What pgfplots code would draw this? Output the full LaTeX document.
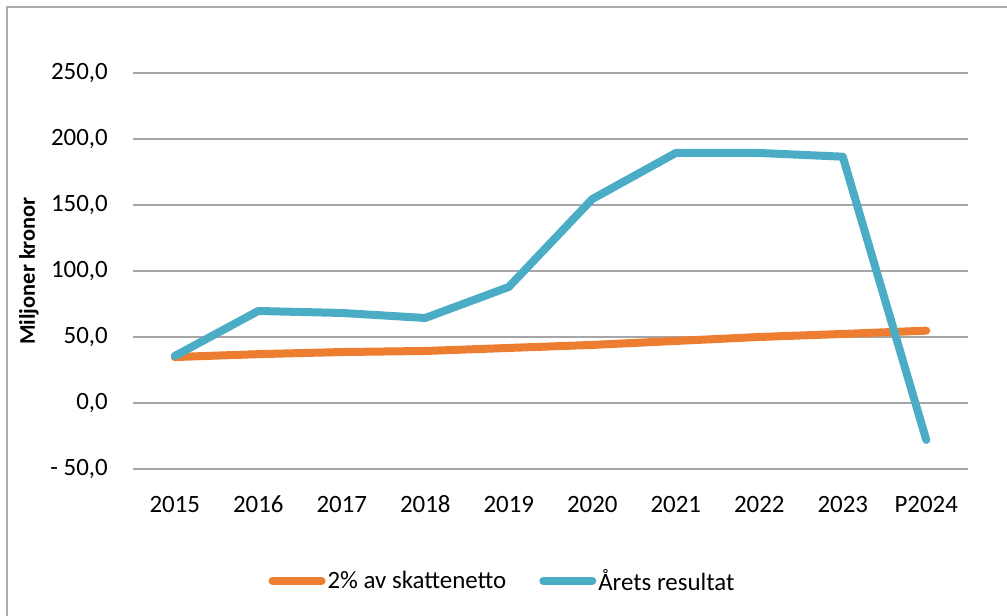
\documentclass[border=0pt]{standalone}
\usepackage{pgfplots}
\pgfplotsset{compat=1.18}
\usepackage{fontspec}
\setmainfont{Carlito}
\definecolor{orng}{HTML}{ED7D31}
\definecolor{aqua}{HTML}{4BACC6}
\definecolor{gridc}{HTML}{A6A6A6}
\definecolor{framec}{HTML}{ABABAB}
\begin{document}
\begin{tikzpicture}[x=1bp,y=1bp]
\useasboundingbox (0,0) rectangle (1007,616);
\draw[framec, line width=1.5bp] (7,-5) -- (7,609) -- (1012,609);
\begin{axis}[
  at={(133bp,147bp)}, anchor=south west,
  scale only axis, width=835bp, height=396bp,
  xmin=-0.5, xmax=9.5, ymin=-50, ymax=250,
  xtick={0,1,2,3,4,5,6,7,8,9},
  xticklabels={2015,2016,2017,2018,2019,2020,2021,2022,2023,P2024},
  ytick={-50,0,50,100,150,200,250},
  yticklabels={{- 50,0},{0,0},{50,0},{100,0},{150,0},{200,0},{250,0}},
  ymajorgrids, grid style={gridc, line width=1.5bp},
  axis line style={draw=none}, major tick length=0pt,
  tick label style={font=\fontsize{25}{30}\selectfont},
  yticklabel style={inner sep=0pt, xshift=-25bp},
  xticklabel style={inner sep=0pt, anchor=base, yshift=-44bp},
  ylabel={Miljoner kronor},
  ylabel style={at={(axis description cs:-0.1246,0.5)}, anchor=center, font=\fontsize{22.5}{26}\selectfont\bfseries},
  legend columns=2,
  legend style={draw=none, fill=none, at={(axis description cs:0.4425,-0.283)}, anchor=center,
    font=\fontsize{25}{30}\selectfont, inner sep=0pt,
    /tikz/every even column/.append style={column sep=31bp},
    nodes={inner sep=2bp}},
  legend image code/.code={\draw[#1] (0bp,0bp) -- (49bp,0bp);},
  clip=false,
]
\addplot[orng, line width=8bp, line cap=round, line join=round] coordinates {
(0,34.8) (1,37.0) (2,38.6) (3,39.4) (4,41.7) (5,44.0) (6,47.0) (7,50.0) (8,52.3) (9,54.8)};
\addlegendentry{2\% av skattenetto}
\addplot[aqua, line width=8bp, line cap=round, line join=round] coordinates {
(0,35.6) (1,69.7) (2,68.2) (3,64.4) (4,87.9) (5,154.5) (6,189.4) (7,189.4) (8,186.6) (9,-28.0)};
\addlegendentry{Årets resultat}
\end{axis}
\end{tikzpicture}
\end{document}
